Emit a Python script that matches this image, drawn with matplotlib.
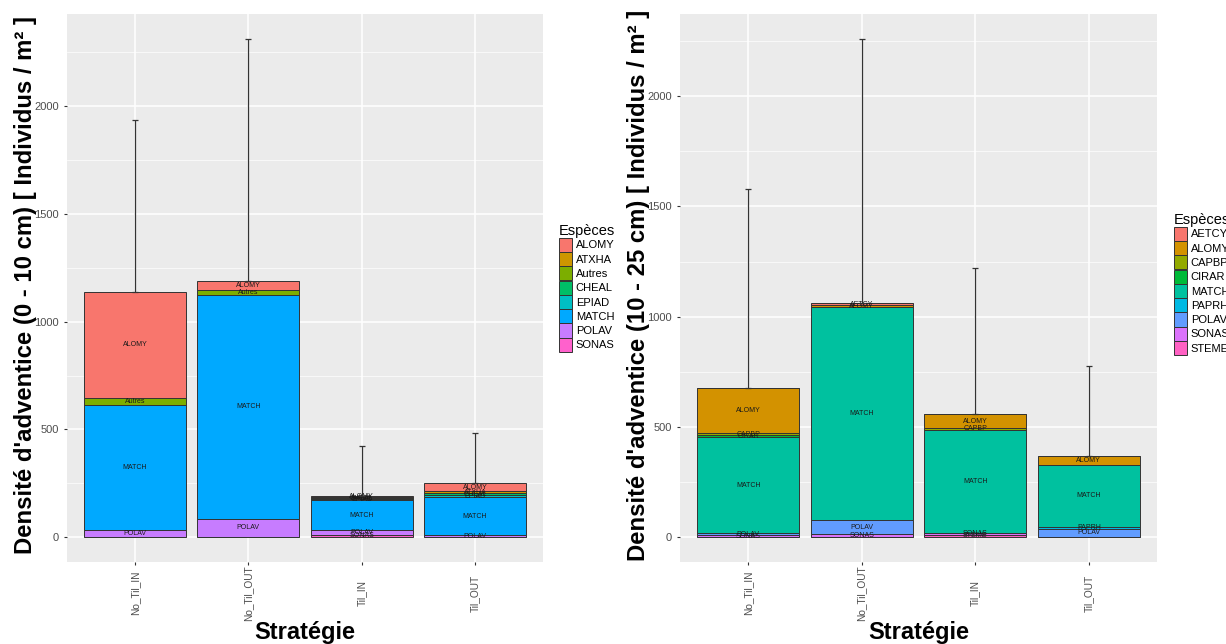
import matplotlib
matplotlib.use('Agg')
import matplotlib.pyplot as plt
from matplotlib.patches import Patch
from matplotlib.ticker import MultipleLocator

plt.rcParams['font.family'] = ['Liberation Sans', 'DejaVu Sans']

strategies = ['No_Til_IN', 'No_Til_OUT', 'Til_IN', 'Til_OUT']

# 0 - 10 cm
esp_1 = ['ALOMY', 'ATXHA', 'Autres', 'CHEAL', 'EPIAD', 'MATCH', 'POLAV', 'SONAS']
col_1 = ['#F8766D', '#CD9600', '#7CAE00', '#00BE67', '#00BFC4', '#00A9FF', '#C77CFF', '#FF61CC']
alomy_1 = [492, 42, 4, 37]
atxha_1 = [0, 0, 0, 8]
autres_1 = [33, 24, 3, 0]
cheal_1 = [0, 0, 6, 8]
epiad_1 = [0, 0, 6, 12]
match_1 = [580, 1038, 137, 174]
polav_1 = [35, 86, 23, 10]
sonas_1 = [0, 0, 11, 0]
sd_1 = [795, 1123, 233, 233]

# 10 - 25 cm
esp_2 = ['AETCY', 'ALOMY', 'CAPBP', 'CIRAR', 'MATCH', 'PAPRH', 'POLAV', 'SONAS', 'STEME']
col_2 = ['#F8766D', '#D39200', '#93AA00', '#00BA38', '#00C19F', '#00B9E3', '#619CFF', '#DB72FB', '#FF61C3']
aetcy_2 = [0, 9, 0, 0]
alomy_2 = [205, 9, 62, 40]
capbp_2 = [10, 0, 9, 0]
cirar_2 = [10, 0, 0, 0]
match_2 = [433, 966, 466, 280]
paprh_2 = [0, 0, 0, 9]
polav_2 = [10, 64, 0, 38]
sonas_2 = [9, 12, 10, 0]
steme_2 = [0, 0, 10, 0]
sd_2 = [904, 1200, 664, 407]

vals_1 = [alomy_1, atxha_1, autres_1, cheal_1, epiad_1, match_1, polav_1, sonas_1]
vals_2 = [aetcy_2, alomy_2, capbp_2, cirar_2, match_2, paprh_2, polav_2, sonas_2, steme_2]


def panel(ax, especes, couleurs, valeurs, sd, ylabel, leg_pos):
    x = list(range(1, len(strategies) + 1))
    bas = [0] * len(strategies)
    # ggplot empile le premier niveau en haut
    for nom, c, v in zip(especes[::-1], couleurs[::-1], valeurs[::-1]):
        ax.bar(x, v, bottom=bas, width=0.9, color=c, edgecolor='#333333', linewidth=0.7, zorder=2)
        for i in range(len(x)):
            if v[i] > 0:
                ax.text(x[i], bas[i] + v[i] / 2, nom, ha='center', va='center',
                        fontsize=5, color='#1a1a1a', zorder=3)
        bas = [b + a for b, a in zip(bas, v)]
    ax.errorbar(x, bas, yerr=[[0] * len(x), sd], fmt='none', ecolor='#333333',
                elinewidth=0.9, capsize=2.3, capthick=0.9, zorder=4)

    top = max(b + s for b, s in zip(bas, sd))
    ax.set_ylim(-0.05 * top, 1.05 * top)
    ax.set_xlim(0.4, len(strategies) + 0.6)
    ax.set_facecolor('#EBEBEB')
    for s in ax.spines.values():
        s.set_visible(False)
    ax.yaxis.set_major_locator(MultipleLocator(500))
    ax.yaxis.set_minor_locator(MultipleLocator(250))
    ax.set_xticks(x)
    ax.set_xticklabels(strategies, rotation=90, va='center')
    ax.grid(which='major', color='white', linewidth=1.1)
    ax.grid(which='minor', color='white', linewidth=0.5)
    ax.set_axisbelow(True)
    ax.tick_params(which='major', length=2.5, color='#333333', labelcolor='#4D4D4D', labelsize=8)
    ax.tick_params(axis='x', labelsize=7.3, pad=19.8)
    ax.tick_params(which='minor', length=0)

    ax.set_xlabel('Stratégie', fontsize=17, fontweight='bold')
    ax.xaxis.set_label_coords(0.5, -0.108)
    ax.set_ylabel(ylabel, fontsize=17.2, fontweight='bold')
    ax.yaxis.set_label_coords(-0.062, 0.505)

    handles = [Patch(facecolor=c, edgecolor='#333333', linewidth=0.7, label=n)
               for n, c in zip(especes, couleurs)]
    ax.legend(handles=handles, title='Espèces', loc='upper left',
              bbox_to_anchor=leg_pos, bbox_transform=ax.figure.transFigure,
              frameon=False, fontsize=8, title_fontsize=10.5, handlelength=1.25,
              handleheight=1.57, labelspacing=0.02, borderpad=0, handletextpad=0.3,
              alignment='left')


fig = plt.figure(figsize=(12.26, 6.44), dpi=100)
ax1 = fig.add_axes([67 / 1226, 1 - 562 / 644, 476 / 1226, 548 / 644])
ax2 = fig.add_axes([680 / 1226, 1 - 562 / 644, 477 / 1226, 548 / 644])

panel(ax1, esp_1, col_1, vals_1, sd_1,
      "Densité d'adventice (0 - 10 cm) [ Individus / m² ]", (553 / 1226, 1 - 218 / 644))
panel(ax2, esp_2, col_2, vals_2, sd_2,
      "Densité d'adventice (10 - 25 cm) [ Individus / m² ]", (1168 / 1226, 1 - 207 / 644))

fig.savefig('out.png', dpi=100)
